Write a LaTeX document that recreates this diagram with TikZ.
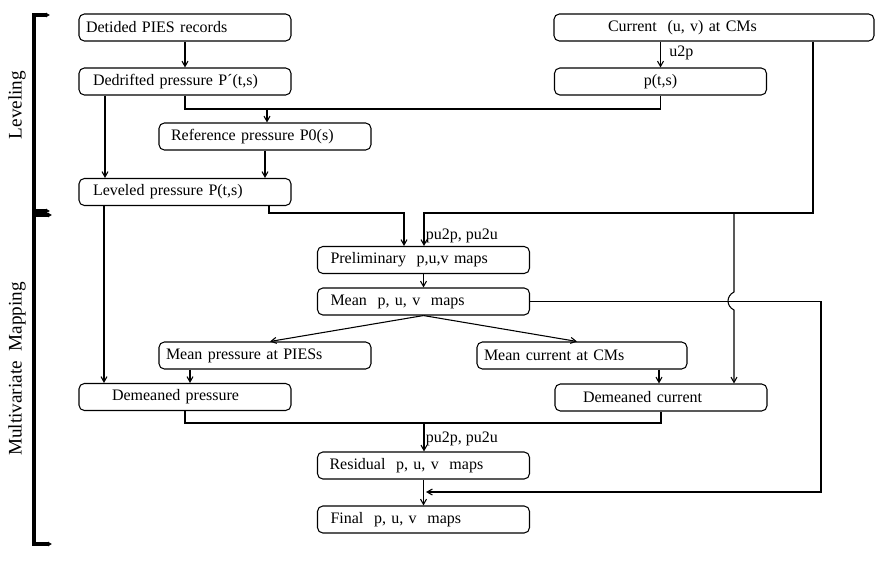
\documentclass[tikz,border=0pt]{standalone}
\usepackage{fontspec}
\setmainfont{Liberation Serif}
\usetikzlibrary{arrows.meta}

\tikzset{
  blk/.style={draw, line width=0.8pt, rounded corners=4pt, minimum height=20.25pt,
    inner xsep=5.25pt, inner ysep=0pt, text width=148.5pt, align=left},
  ln/.style={line width=0.8pt},
  arr/.style={line width=0.8pt, -{Straight Barb[length=4pt,width=4.5pt]}},
  brk/.style={line width=2.3pt, {Latex[length=3pt,width=4pt]}-{Latex[length=3pt,width=4pt]}},
  side/.style={rotate=90, font=\fontsize{14.4}{17}\selectfont},
}

\begin{document}
\begin{tikzpicture}[x=0.75pt, y=-0.75pt, font=\fontsize{12}{14}\selectfont]
		%%%%% START %%%%%
		\useasboundingbox (0,0) rectangle (891,561);
		
		% leveling part
		\node[blk] (detided) at (185,27.5) {Detided PIES records};
		\node[blk] (dedrift) at (185,81.5) {\hspace*{5.25pt}Dedrifted pressure P´(t,s)};
		\node[blk] (refp) at (265,136.5) {\hspace*{3.75pt}Reference pressure P0(s)};
		\node[blk] (leveled) at (185,192) {\hspace*{5.25pt}Leveled pressure P(t,s)};
		\node[blk, text width=229.5pt] (current) at (714,27.5) {\hspace*{35.25pt}Current\ \ (u, v) at CMs};
		\node[blk, align=center] (pts) at (660.5,81.5) {p(t,s)};
		
		% mapping part
		\node[blk] (prelim) at (423.5,260) {\hspace*{4.5pt}Preliminary\ \ p,u,v maps};
		\node[blk] (meanmap) at (423.5,301.5) {\hspace*{4.5pt}Mean\ \ p, u, v\ \ maps};
		\node[blk] (mpp) at (265,355.5) {Mean pressure at PIESs};
		\node[blk, text width=147pt] (mcc) at (582,355.5) {Mean current at CMs};
		\node[blk] (dmp) at (185,397) {\hspace*{19.5pt}Demeaned pressure};
		\node[blk] (dmc) at (661,397.5) {\hspace*{15.75pt}Demeaned current};
		\node[blk] (resid) at (423.5,465.5) {\hspace*{3.75pt}Residual\ \ p, u, v\ \ maps};
		\node[blk] (final) at (423.5,519.5) {\hspace*{4.5pt}Final\ \ p, u, v\ \ maps};
		
		% side brackets
		\draw[brk] (50,15) -- (34,15) -- (34,211) -- (50,211);
		\draw[brk] (52,215) -- (34,215) -- (34,544) -- (52,544);
		\node[side] (lvl) at (17,105) {Leveling};
		\node[side] (mvm) at (17,369) {Multivariate\ \ Mapping};
		
		% junctions
		\coordinate (j1) at (267,109);
		\coordinate (j2) at (424,213);
		\coordinate (j3) at (404,213);
		\coordinate (j4) at (734,213);
		\coordinate (j5) at (426,492);
		\coordinate (j6) at (424,423);
		
		% connectors
		\draw[arr] (detided) -- (dedrift);
		\draw[arr] (dedrift.south -| 105,0) -- (leveled.north -| 105,0);
		\draw[ln] (dedrift.south) |- (j1) -| (pts.south);
		\draw[arr] (j1) -- (j1 |- refp.north);
		\draw[arr] (refp.south) -- (refp.south |- leveled.north);
		\draw[arr] (current.south -| pts.south) -- (pts.north)
			node[pos=0.45, right, xshift=3pt] {u2p};
		
		\draw[arr] (current.south -| 813,0) |- (j2) -- (j2 |- prelim.north)
			node[pos=0.7, right, inner xsep=1pt] {pu2p, pu2u};
		\draw[arr] (leveled.south -| 269,0) |- (j3) -- (j3 |- prelim.north);
		\draw[arr] (leveled.south -| 104,0) -- (dmp.north -| 104,0);
		\draw[arr] (prelim) -- (meanmap);
		\draw[arr] (meanmap.south) -- (mpp.north -| 270,0);
		\draw[arr] (meanmap.south) -- (mcc.north -| 577,0);
		
		\draw[arr] (j4) -- (734,292) .. controls (726,296) and (726,306) .. (734,310) -- (dmc.north -| 734,0);
		\draw[arr] (meanmap.east) -| (821,492) -- (j5);
		
		\draw[arr] (mpp.south -| 190,0) -- (dmp.north -| 190,0);
		\draw[arr] (mcc.south -| 659,0) -- (dmc.north -| 659,0);
		\draw[ln] (dmp.south) |- (j6) -| (dmc.south);
		\draw[arr] (j6) -- (j6 |- resid.north) node[pos=0.55, right, inner xsep=1pt] {pu2p, pu2u};
		\draw[arr] (resid) -- (final);
		
		%%%%% END %%%%%
\end{tikzpicture}
\end{document}
